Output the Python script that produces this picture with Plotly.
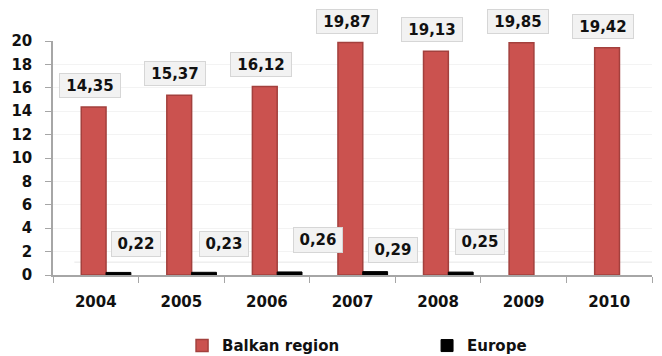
import plotly.graph_objects as go

# Data
years = ["2004", "2005", "2006", "2007", "2008", "2009", "2010"]
balkan = [14.35, 15.37, 16.12, 19.87, 19.13, 19.85, 19.42]
europe = [0.22, 0.23, 0.26, 0.29, 0.25, None, None]
balkan_labels = ["14,35", "15,37", "16,12", "19,87", "19,13", "19,85", "19,42"]
europe_labels = ["0,22", "0,23", "0,26", "0,29", "0,25", None, None]
y_ticks = list(range(0, 21, 2))

FONT = "DejaVu Sans"
RED = "#CB524F"

fig = go.Figure()
fig.add_trace(go.Bar(
    x=years, y=balkan, name="Balkan region",
    width=0.29, offset=-0.17,
    marker=dict(color=RED, line=dict(color="#A3403D", width=1.5)),
))
fig.add_trace(go.Bar(
    x=years, y=europe, name="Europe",
    width=0.29, offset=0.12,
    marker=dict(color="#000000", line=dict(color="#000000", width=1)),
))

box = dict(bgcolor="#F2F2F2", bordercolor="#D6D6D6", borderwidth=1,
           font=dict(family=FONT, size=15, color="#111111"), showarrow=False)

# value boxes above the Balkan bars (x given as category index)
for i, (v, t) in enumerate(zip(balkan, balkan_labels)):
    fig.add_annotation(x=i, y=v, text="<b>%s</b>" % t, xshift=-6, yshift=9,
                       yanchor="bottom", width=58, height=21, **box)

# value boxes beside the Europe bars (hand-placed offsets)
eu_shift = [(40, 28), (43, 28), (51, 32), (40, 22), (42, 30), None, None]
for i, (v, t, s) in enumerate(zip(europe, europe_labels, eu_shift)):
    if v is None:
        continue
    fig.add_annotation(x=i, y=v, text="<b>%s</b>" % t, xshift=s[0], yshift=s[1],
                       yanchor="middle", width=46, height=22, **box)

# faint floor edge
fig.add_shape(type="line", xref="x", yref="y", x0=-0.25, x1=6.5, y0=1.1, y1=1.1,
              layer="below", line=dict(color="#E6E6E6", width=1))

fig.update_layout(
    width=662, height=356,
    margin=dict(l=53, r=10, t=41, b=81),
    paper_bgcolor="white", plot_bgcolor="white",
    font=dict(family=FONT, size=15, color="#111111"),
    barmode="group",
    showlegend=True,
    legend=dict(orientation="h", xref="container", yref="container",
                x=0.275, y=0.075, xanchor="left", yanchor="top",
                entrywidth=200, entrywidthmode="pixels",
                font=dict(family=FONT, size=15, color="#111111", weight="bold")),
    xaxis=dict(type="category", range=[-0.5, 6.5], showline=True, linecolor="#A6A6A6",
               linewidth=1.5, ticks="outside", tickson="boundaries", ticklen=6,
               tickcolor="#A6A6A6", ticklabelstandoff=12,
               tickfont=dict(family=FONT, size=15, weight="bold"),
               showgrid=False, zeroline=False),
    yaxis=dict(range=[0, 20], tickvals=y_ticks, showline=True, linecolor="#A6A6A6",
               linewidth=1.5, ticks="outside", ticklen=6, tickcolor="#A6A6A6",
               ticklabelstandoff=10,
               tickfont=dict(family=FONT, size=15, weight="bold"),
               showgrid=True, gridcolor="#F3F3F3", zeroline=False),
)

fig.write_html("out.html")
